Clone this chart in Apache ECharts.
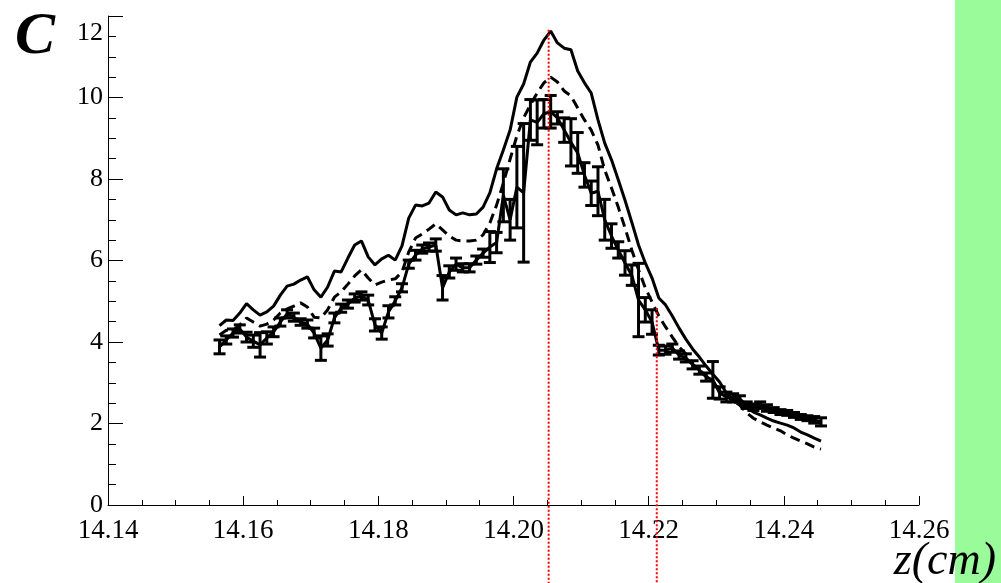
<!DOCTYPE html>
<html>
<head>
<meta charset="utf-8">
<title>C vs z</title>
<script src="https://cdn.jsdelivr.net/npm/echarts@6/dist/echarts.min.js"></script>
<style>
  html, body { margin: 0; padding: 0; background: #fff; }
  #chart { width: 1001px; height: 583px; }
</style>
</head>
<body>
<div id="chart"></div>
<script>
// z positions (cm) shared by the model curves and the measurement
const zValues = [
  14.1565, 14.1575, 14.1585, 14.1595, 14.1605, 14.1615, 14.1625, 14.1635, 14.1645, 14.1655,
  14.1665, 14.1675, 14.1685, 14.1695, 14.1705, 14.1715, 14.1725, 14.1735, 14.1745, 14.1755,
  14.1765, 14.1775, 14.1785, 14.1795, 14.1805, 14.1815, 14.1825, 14.1835, 14.1845, 14.1855,
  14.1865, 14.1875, 14.1885, 14.1895, 14.1905, 14.1915, 14.1925, 14.1935, 14.1945, 14.1955,
  14.1965, 14.1975, 14.1985, 14.1995, 14.2005, 14.2015, 14.2025, 14.2035, 14.2045, 14.2055,
  14.2065, 14.2075, 14.2085, 14.2095, 14.2105, 14.2115, 14.2125, 14.2135, 14.2145, 14.2155,
  14.2165, 14.2175, 14.2185, 14.2195, 14.2205, 14.2215, 14.2225, 14.2235, 14.2245, 14.2255,
  14.2265, 14.2275, 14.2285, 14.2295, 14.2305, 14.2315, 14.2325, 14.2335, 14.2345, 14.2355,
  14.2365, 14.2375, 14.2385, 14.2395, 14.2405, 14.2415, 14.2425, 14.2435, 14.2445, 14.2455
];

// upper model curve (solid)
const solidModel = [
  4.40, 4.54, 4.53, 4.71, 4.94, 4.79, 4.66, 4.74, 4.88, 5.15,
  5.37, 5.42, 5.52, 5.60, 5.28, 5.10, 5.35, 5.74, 5.72, 6.06,
  6.38, 6.48, 6.09, 5.89, 6.04, 6.13, 6.01, 6.36, 7.04, 7.36,
  7.34, 7.41, 7.68, 7.56, 7.24, 7.12, 7.17, 7.12, 7.14, 7.31,
  7.66, 8.25, 8.71, 9.20, 10.01, 10.33, 10.87, 11.09, 11.41, 11.63,
  11.34, 11.21, 11.17, 10.65, 10.36, 10.11, 9.45, 8.88, 8.47, 7.98,
  7.48, 6.94, 6.38, 5.94, 5.57, 5.08, 4.91, 4.64, 4.34, 4.07,
  3.83, 3.63, 3.41, 3.21, 3.02, 2.75, 2.60, 2.50, 2.38, 2.28,
  2.21, 2.13, 2.06, 2.01, 1.96, 1.89, 1.79, 1.72, 1.64, 1.57
];

// lower model curve (dashed)
const dashedModel = [
  4.17, 4.29, 4.29, 4.42, 4.59, 4.49, 4.39, 4.44, 4.54, 4.71,
  4.81, 4.88, 4.96, 4.86, 4.61, 4.59, 4.79, 5.10, 5.23, 5.42,
  5.62, 5.77, 5.57, 5.40, 5.47, 5.52, 5.55, 5.72, 6.21, 6.55,
  6.65, 6.77, 6.90, 6.75, 6.60, 6.50, 6.48, 6.48, 6.50, 6.63,
  6.92, 7.36, 7.90, 8.49, 9.06, 9.50, 9.82, 10.11, 10.36, 10.50,
  10.38, 10.16, 10.04, 9.74, 9.45, 9.20, 8.83, 8.22, 7.78, 7.31,
  6.80, 6.26, 5.77, 5.33, 4.98, 4.64, 4.37, 4.12, 3.88, 3.71,
  3.46, 3.31, 3.17, 3.00, 2.85, 2.67, 2.55, 2.45, 2.26, 2.13,
  2.04, 1.96, 1.89, 1.82, 1.72, 1.64, 1.57, 1.50, 1.42, 1.37
];

// measured C with errors
const measured = [
  3.88, 4.05, 4.22, 4.32, 4.12, 4.02, 3.93, 4.10, 4.25, 4.49,
  4.69, 4.61, 4.49, 4.44, 4.22, 3.85, 4.05, 4.59, 4.83, 4.93,
  5.08, 5.13, 5.03, 4.42, 4.22, 4.74, 5.01, 5.33, 5.91, 6.13,
  6.28, 6.33, 6.38, 5.33, 5.72, 5.91, 5.82, 5.82, 6.01, 6.18,
  6.33, 6.44, 7.60, 7.00, 7.80, 7.66, 9.45, 9.39, 9.60, 9.65,
  9.50, 9.20, 8.90, 8.64, 8.10, 7.65, 7.70, 7.00, 6.60, 6.26,
  5.94, 5.64, 5.03, 4.79, 4.49, 3.80, 3.80, 3.85, 3.68, 3.61,
  3.44, 3.31, 3.14, 3.07, 2.75, 2.65, 2.63, 2.60, 2.45, 2.40,
  2.45, 2.38, 2.33, 2.28, 2.26, 2.21, 2.16, 2.13, 2.09, 2.04
];
const measuredErr = [
  0.17, 0.10, 0.10, 0.10, 0.12, 0.15, 0.30, 0.15, 0.12, 0.10,
  0.10, 0.10, 0.08, 0.10, 0.12, 0.30, 0.15, 0.12, 0.10, 0.10,
  0.10, 0.10, 0.12, 0.15, 0.15, 0.15, 0.10, 0.10, 0.10, 0.12,
  0.10, 0.10, 0.15, 0.30, 0.15, 0.15, 0.10, 0.10, 0.10, 0.10,
  0.38, 0.25, 0.65, 0.50, 1.00, 1.70, 0.50, 0.55, 0.35, 0.40,
  0.15, 0.30, 0.58, 0.50, 0.30, 0.30, 0.60, 0.50, 0.30, 0.20,
  0.30, 0.25, 0.90, 0.30, 0.30, 0.12, 0.10, 0.10, 0.10, 0.10,
  0.10, 0.10, 0.10, 0.45, 0.15, 0.12, 0.10, 0.08, 0.08, 0.08,
  0.08, 0.08, 0.06, 0.06, 0.06, 0.06, 0.06, 0.06, 0.08, 0.10
];

// red dotted markers: z position, top of the marker
const markerZ = [14.2052, 14.2212];
const markerTop = [11.66, 4.83];
const markerBottom = -2.2;

const xTicks = { min: 14.14, max: 14.26, step: 0.02 };
const yTicks = { min: 0, max: 12, step: 2 };

const serif = '"Liberation Serif", "DejaVu Serif", serif';

const chart = echarts.init(document.getElementById('chart'));

function errorBar(params, api) {
  const z = api.value(0);
  const lo = api.coord([z, api.value(1)]);
  const hi = api.coord([z, api.value(2)]);
  const cap = 6;
  const style = { stroke: '#000', lineWidth: 3 };
  return {
    type: 'group',
    children: [
      { type: 'line', shape: { x1: lo[0], y1: lo[1], x2: hi[0], y2: hi[1] }, style },
      { type: 'line', shape: { x1: lo[0] - cap, y1: lo[1], x2: lo[0] + cap, y2: lo[1] }, style },
      { type: 'line', shape: { x1: hi[0] - cap, y1: hi[1], x2: hi[0] + cap, y2: hi[1] }, style }
    ]
  };
}

const markerSeries = markerZ.map((z, k) => ({
  type: 'line',
  clip: false,
  silent: true,
  showSymbol: false,
  z: 10,
  data: [[z, markerTop[k]], [z, markerBottom]],
  lineStyle: { color: '#ff0000', width: 2, type: [2, 2] }
}));

const option = {
  animation: false,
  backgroundColor: '#fff',
  grid: { left: 108, right: 82, top: 16, bottom: 78, containLabel: false },
  title: [
    {
      text: 'C',
      left: 10,
      top: 2,
      textStyle: { fontFamily: serif, fontSize: 60, fontStyle: 'italic', fontWeight: 'bold', color: '#000' }
    },
    {
      text: 'z(cm)',
      right: 0,
      bottom: -7,
      textStyle: { fontFamily: serif, fontSize: 46, fontStyle: 'italic', fontWeight: 'normal', color: '#000' }
    }
  ],
  graphic: [
    { type: 'rect', right: 0, top: 0, z: -1, shape: { width: 46, height: 583 }, style: { fill: '#99fb99' } }
  ],
  xAxis: {
    type: 'value',
    min: xTicks.min,
    max: xTicks.max,
    interval: xTicks.step,
    axisLine: { lineStyle: { color: '#000', width: 1 } },
    axisTick: { inside: true, length: 9, lineStyle: { color: '#000' } },
    minorTick: { show: true, splitNumber: 4, length: 5, lineStyle: { color: '#000' } },
    splitLine: { show: false },
    axisLabel: {
      color: '#000',
      fontFamily: serif,
      fontSize: 27,
      margin: 12,
      formatter: v => v.toFixed(2)
    }
  },
  yAxis: {
    type: 'value',
    min: yTicks.min,
    max: yTicks.max,
    interval: yTicks.step,
    axisLine: { show: true, lineStyle: { color: '#000', width: 1 } },
    axisTick: { show: true, inside: true, length: 15, lineStyle: { color: '#000' } },
    minorTick: { show: true, splitNumber: 4, length: 8, lineStyle: { color: '#000' } },
    splitLine: { show: false },
    axisLabel: {
      color: '#000',
      fontFamily: serif,
      fontSize: 26,
      margin: 5,
      formatter: v => (v === yTicks.max ? '{t|' + v + '}' : String(v)),
      rich: { t: { fontFamily: serif, fontSize: 26, color: '#000', padding: [34, 0, 0, 0] } }
    }
  },
  series: [
    {
      type: 'line',
      showSymbol: false,
      data: zValues.map((z, i) => [z, solidModel[i]]),
      lineStyle: { color: '#000', width: 3 }
    },
    {
      type: 'line',
      showSymbol: false,
      data: zValues.map((z, i) => [z, dashedModel[i]]),
      lineStyle: { color: '#000', width: 3, type: [10, 6] }
    },
    {
      type: 'line',
      showSymbol: false,
      data: zValues.map((z, i) => [z, measured[i]]),
      lineStyle: { color: '#000', width: 3 }
    },
    {
      type: 'custom',
      renderItem: errorBar,
      encode: { x: 0, y: [1, 2] },
      data: zValues.map((z, i) => [z, measured[i] - measuredErr[i], measured[i] + measuredErr[i]])
    },
    ...markerSeries
  ]
};

chart.setOption(option);
</script>
</body>
</html>
